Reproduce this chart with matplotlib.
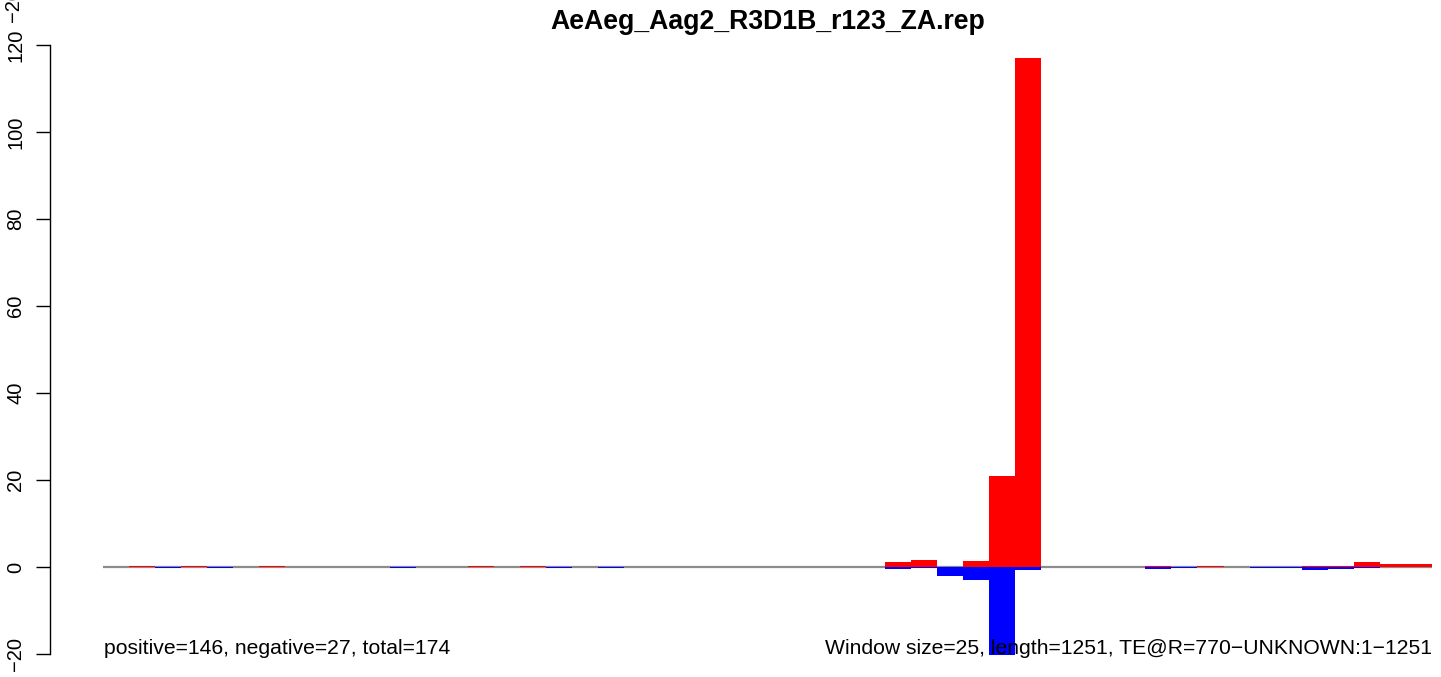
import matplotlib
matplotlib.use("Agg")
import matplotlib.pyplot as plt
import numpy as np

plt.rcParams['font.family'] = ['Liberation Sans', 'DejaVu Sans']

title = "AeAeg_Aag2_R3D1B_r123_ZA.rep"
left_note = "positive=146, negative=27, total=174"
right_note = "Window size=25, length=1251, TE@R=770\u2212UNKNOWN:1\u22121251"
n_windows = 51
windows = np.arange(n_windows)

pos_idx = [1, 3, 6, 14, 16, 30, 31, 33, 34, 35, 40, 42, 46, 47, 48, 49, 50]
pos_val = [0.15, 0.15, 0.15, 0.15, 0.15, 1.15, 1.6, 1.45, 20.9, 117.0, 0.25, 0.15, 0.3, 0.3, 1.15, 0.7, 0.7]
neg_idx = [2, 4, 11, 17, 19, 30, 31, 32, 33, 34, 35, 40, 41, 44, 45, 46, 47, 48]
neg_val = [-0.15, -0.15, -0.15, -0.15, -0.15, -0.35, -0.3, -2.0, -3.1, -20.2, -0.8, -0.4, -0.15, -0.15, -0.15, -0.7, -0.55, -0.15]
yticks = [-20, 0, 20, 40, 60, 80, 100, 120]

pos = np.zeros(n_windows)
neg = np.zeros(n_windows)
pos[pos_idx] = pos_val
neg[neg_idx] = neg_val

W, H = 1441, 677
fig = plt.figure(figsize=(W / 100, H / 100), dpi=100)
x0, x1 = 103, 1432
y_top, y_bot = 45, 654
ax = fig.add_axes([x0 / W, 1 - y_bot / H, (x1 - x0) / W, (y_bot - y_top) / H])
ax.set_xlim(0, n_windows)
ax.set_ylim(-20, 120)

ax.plot([0, n_windows], [0, 0], color='#8c8c8c', lw=1.6, zorder=1, solid_capstyle='butt')
ax.bar(windows, pos, width=1, align='edge', color='#ff0000', linewidth=0, zorder=2)
ax.bar(windows, neg, width=1, align='edge', color='#0000ff', linewidth=0, zorder=2, clip_on=False)

for s in ['top', 'right', 'bottom']:
    ax.spines[s].set_visible(False)
ax.spines['left'].set_position(('outward', 53 * 0.72))
ax.spines['left'].set_bounds(-20, 120)
ax.spines['left'].set_linewidth(1.0)
ax.set_xticks([])
ax.set_yticks(yticks)
ax.set_yticklabels([str(v).replace('-', '\u2212') for v in yticks], rotation=90, va='center', fontsize=14.5)
ax.tick_params(axis='y', length=10, width=1.0, pad=8)

fig.text(767.5 / W, 1 - 22 / H, title, ha='center', va='center', fontsize=19.2, fontweight='bold')
fig.text(104 / W, 1 - 648 / H, left_note, ha='left', va='center', fontsize=15.2)
fig.text(1432 / W, 1 - 648 / H, right_note, ha='right', va='center', fontsize=15.2)
fig.text(13 / W, 1 - 22 / H, "\u221220", ha='center', va='bottom', rotation=90, fontsize=14.5)

fig.savefig("out.png", dpi=100)
